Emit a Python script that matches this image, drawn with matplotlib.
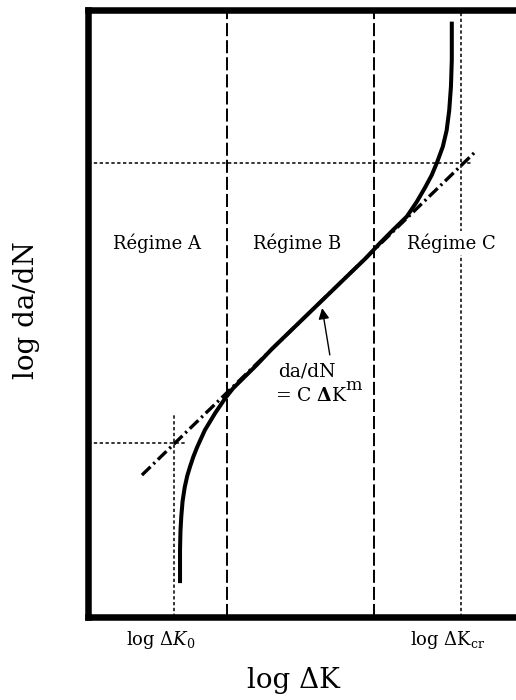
import matplotlib
matplotlib.use("Agg")
import matplotlib.pyplot as plt

plt.rcParams['font.family'] = ['DejaVu Serif']
plt.rcParams['mathtext.fontset'] = 'dejavuserif'
plt.rcParams['lines.scale_dashes'] = False

# ---- schematic data (arbitrary log units) ----
dK0 = 2.0            # threshold log dK0
dKcr = 8.71          # critical log dKcr
regime_bounds = [3.25, 6.68]
y_low = 2.86         # da/dN at threshold
y_high = 7.47        # da/dN at critical
low_guide_x_end = 2.32
high_guide_x_end = 9.0
dK0_guide_top = 3.32

# Paris-law line (dash-dot) end points
paris_x = [1.26, 9.04]
paris_y = [2.33, 7.65]

# crack-growth curve
curve_x = [2.15, 2.15, 2.16, 2.18, 2.21, 2.26, 2.32, 2.38, 2.46, 2.55, 2.73, 2.97, 3.20,
           3.39, 3.62, 3.95, 4.30, 6.50, 6.82, 7.13, 7.45, 7.68, 7.87, 8.03, 8.16,
           8.29, 8.38, 8.44, 8.48, 8.50, 8.50]
curve_y = [0.55, 1.10, 1.40, 1.65, 1.90, 2.13, 2.32, 2.46, 2.63, 2.79, 3.07, 3.35, 3.59,
           3.76, 3.92, 4.15, 4.41, 5.91, 6.15, 6.37, 6.59, 6.83, 7.06, 7.27, 7.49,
           7.74, 8.01, 8.34, 8.73, 9.17, 9.80]

regime_labels = ["Régime A", "Régime B", "Régime C"]
regime_label_x = [1.61, 4.88, 8.50]
regime_label_y = 6.15

fig = plt.figure(figsize=(5.16, 7.0), dpi=100)
ax = fig.add_axes([88/516, (700-616.5)/700, (516-88)/516, 607/700])
ax.set_xlim(0, 10)
ax.set_ylim(0, 10)

for s in ['left', 'top', 'bottom']:
    ax.spines[s].set_linewidth(4.7)
    ax.spines[s].set_capstyle('projecting')
ax.spines['right'].set_visible(False)
ax.set_xticks([])
ax.set_yticks([])

dashed = (0, (9.4, 2.9))
dotted = (0, (2.4, 1.8))
dashdot = (0, (8.6, 2.9, 1.6, 2.9))

# regime boundaries
for xb in regime_bounds:
    ax.axvline(xb, color='black', lw=1.4, ls=dashed, zorder=1)

# guide lines
ax.axvline(dKcr, color='black', lw=1.1, ls=dotted, zorder=1)
ax.plot([dK0, dK0], [0, dK0_guide_top], color='black', lw=1.1, ls=dotted, zorder=1)
ax.plot([0, low_guide_x_end], [y_low, y_low], color='black', lw=1.1, ls=dotted, zorder=1)
ax.plot([0, high_guide_x_end], [y_high, y_high], color='black', lw=1.1, ls=dotted, zorder=1)

# Paris law line
ax.plot(paris_x, paris_y, color='black', lw=2.4, ls=dashdot, zorder=2)

# curve
ax.plot(curve_x, curve_y, color='black', lw=2.9, solid_capstyle='butt',
        solid_joinstyle='round', zorder=3)

# regime labels
for lab, lx in zip(regime_labels, regime_label_x):
    ax.text(lx, regime_label_y, lab, ha='center', va='center', fontsize=13,
            zorder=4, bbox=dict(facecolor='white', edgecolor='none', pad=1.5))

# annotation
ax.annotate('', xy=(5.47, 5.08), xytext=(5.65, 4.31),
            arrowprops=dict(arrowstyle='-|>', lw=1.0, color='black',
                            mutation_scale=16, shrinkA=0, shrinkB=0))
ax.text(5.12, 4.04, 'da/dN', ha='center', va='center', fontsize=13.5)
ax.text(4.37, 3.63, r'= C $\mathbf{\Delta}$K', ha='left', va='center',
        fontsize=13.5)
ax.text(6.01, 3.80, 'm', ha='left', va='center', fontsize=12.5)

# axis tick-like labels
ax.text(1.71, -0.39, r'log $\Delta K_0$', ha='center', va='center', fontsize=13,
        clip_on=False)
ax.text(8.40, -0.39, r'log ΔK$_{\mathrm{cr}}$', ha='center', va='center', fontsize=13,
        clip_on=False)

# axis labels
ax.text(4.79, -1.05, 'log ΔK', ha='center', va='center', fontsize=20, clip_on=False)
ax.text(-1.43, 5.05, 'log da/dN', ha='center', va='center', fontsize=20,
        rotation=90, clip_on=False)

fig.savefig('out.png', dpi=100)
